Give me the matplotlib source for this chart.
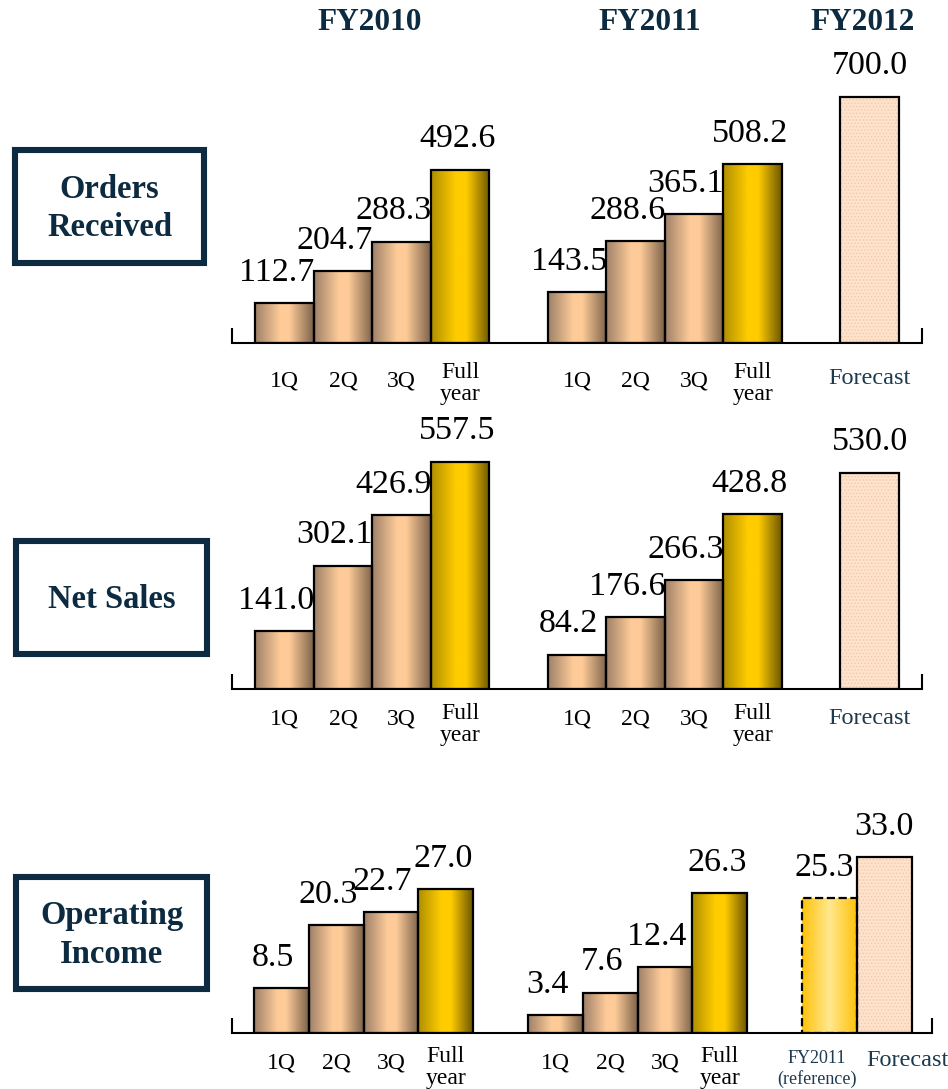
import numpy as np
import matplotlib
matplotlib.use('Agg')
import matplotlib.pyplot as plt
from matplotlib.colors import LinearSegmentedColormap
from matplotlib.patches import Rectangle

plt.rcParams['font.family'] = ['Liberation Serif', 'DejaVu Serif']
plt.rcParams['hatch.linewidth'] = 0.6

# ---------------- data ----------------
quarters = ['1Q', '2Q', '3Q', 'Full\nyear']
year_headers = ['FY2010', 'FY2011', 'FY2012']
row_titles = ['Orders\nReceived', 'Net Sales', 'Operating\nIncome']

orders_fy2010 = [112.7, 204.7, 288.3, 492.6]
orders_fy2011 = [143.5, 288.6, 365.1, 508.2]
orders_fy2012_forecast = 700.0

sales_fy2010 = [141.0, 302.1, 426.9, 557.5]
sales_fy2011 = [84.2, 176.6, 266.3, 428.8]
sales_fy2012_forecast = 530.0

opinc_fy2010 = [8.5, 20.3, 22.7, 27.0]
opinc_fy2011 = [3.4, 7.6, 12.4, 26.3]
opinc_fy2011_reference = 25.3
opinc_fy2012_forecast = 33.0

forecast_label = 'Forecast'
reference_label = 'FY2011\n(reference)'

# ---------------- style ----------------
W, H = 948, 1089
NAVY = '#0d2b40'
FC_TEXT = '#1d3a4e'
VAL_FS = 24.5
CAT_FS = 17
fig = plt.figure(figsize=(W / 100, H / 100), dpi=100)


def fx(px):
    return px / W


def fy(py):
    return 1 - py / H


tan_cmap = LinearSegmentedColormap.from_list(
    'tan', [(0, '#9e8068'), (0.42, '#fdca98'), (0.58, '#ffcc99'), (1, '#7c624a')])
gold_cmap = LinearSegmentedColormap.from_list(
    'gold', [(0, '#ae8e00'), (0.42, '#ffcc00'), (0.6, '#ffcc00'), (1, '#6c5600')])
ref_cmap = LinearSegmentedColormap.from_list(
    'ref', [(0, '#ffc20a'), (0.5, '#ffe890'), (1, '#ffc20a')])
grad = np.linspace(0, 1, 256).reshape(1, -1)


def gradient_bar(ax, x, v, cmap, ls='-'):
    b = ax.bar(x, v, width=1.0, align='edge', facecolor='none',
               edgecolor='black', linewidth=1.6, linestyle=ls, zorder=3)[0]
    im = ax.imshow(grad, cmap=cmap, extent=[x, x + 1, 0, v], aspect='auto',
                   zorder=2, interpolation='bilinear')
    im.set_clip_path(b)
    return b


def forecast_bar(ax, x, v):
    ax.bar(x, v, width=1.0, align='edge', facecolor='#fde3cd',
           edgecolor='#f5c8a4', hatch='.....', linewidth=0, zorder=2)
    ax.bar(x, v, width=1.0, align='edge', facecolor='none',
           edgecolor='black', linewidth=1.6, zorder=3)


def make_row(left, right, base, top, px_bar, px_unit, fy10, fy11, fc,
             lab_full, lab_q, fc_label_y, ref=None, val_dx=(-6, -6, -6, -2)):
    ax = fig.add_axes([fx(left), fy(base), (right - left) / W, (base - top) / H])
    ax.patch.set_visible(False)
    starts = [0.4, 5.4]
    for s, vals in zip(starts, [fy10, fy11]):
        for i, v in enumerate(vals):
            cmap = gold_cmap if i == 3 else tan_cmap
            gradient_bar(ax, s + i, v, cmap)
            ax.annotate(f'{v:.1f}', xy=(s + i + 0.5, v), xytext=(val_dx[i], 11),
                        textcoords='offset points', ha='center', va='bottom',
                        fontsize=VAL_FS, annotation_clip=False)
            off = lab_full if i == 3 else lab_q
            ax.annotate(quarters[i], xy=(s + i + 0.5, 0), xytext=(0, -off * 0.72),
                        textcoords='offset points', ha='center', va='top',
                        fontsize=CAT_FS, linespacing=1.05, annotation_clip=False)
    fstart = 10.4
    if ref is not None:
        gradient_bar(ax, fstart, ref, ref_cmap, ls='--')
        ax.annotate(f'{ref:.1f}', xy=(fstart + 0.5, ref), xytext=(-4, 11),
                    textcoords='offset points', ha='center', va='bottom',
                    fontsize=VAL_FS, annotation_clip=False)
        ax.annotate(reference_label, xy=(fstart + 0.5, 0), xytext=(-9, -36 * 0.72),
                    textcoords='offset points', ha='center', va='center',
                    fontsize=13, color=FC_TEXT, linespacing=1.15,
                    annotation_clip=False)
        fstart += 1
        fc_dx = 17
    else:
        fc_dx = 0
    forecast_bar(ax, fstart, fc)
    ax.annotate(f'{fc:.1f}', xy=(fstart + 0.5, fc), xytext=(0, 11),
                textcoords='offset points', ha='center', va='bottom',
                fontsize=VAL_FS, annotation_clip=False)
    ax.annotate(forecast_label, xy=(fstart + 0.5, 0),
                xytext=(fc_dx, -(fc_label_y - base) * 0.72),
                textcoords='offset points', ha='center', va='center',
                fontsize=CAT_FS + 0.5, color=FC_TEXT, annotation_clip=False)

    ax.set_xlim(0, (right - left) / px_bar)
    ax.set_ylim(0, (base - top) / px_unit)
    for sp in ['top', 'left', 'right']:
        ax.spines[sp].set_visible(False)
    ax.spines['bottom'].set_linewidth(1.5)
    ax.set_xticks([])
    ax.set_yticks([])
    tick_h = 15 / (base - top)
    for xa in (0, 1):
        ax.plot([xa, xa], [0, tick_h], transform=ax.transAxes, color='black',
                lw=1.5, clip_on=False, solid_capstyle='butt')
    return ax


make_row(232, 922, 343, 80, 58.5, 0.352, orders_fy2010, orders_fy2011,
         orders_fy2012_forecast, 19, 27, 378)
make_row(232, 922, 689, 420, 58.5, 0.408, sales_fy2010, sales_fy2011,
         sales_fy2012_forecast, 14, 20, 719)
make_row(232, 932, 1033, 820, 54.8, 5.32, opinc_fy2010, opinc_fy2011,
         opinc_fy2012_forecast, 13, 19, 1060, ref=opinc_fy2011_reference)

# year headers
for txt, xp in zip(year_headers, [370, 650, 863]):
    fig.text(fx(xp), fy(22), txt, ha='center', va='center', fontsize=22.5,
             fontweight='bold', color=NAVY)

# row title boxes
boxes = [(15, 150, 204, 263), (16, 541, 207, 654), (16, 877, 207, 989)]
for title, (x0, y0, x1, y1) in zip(row_titles, boxes):
    fig.add_artist(Rectangle((fx(x0), fy(y1)), (x1 - x0) / W, (y1 - y0) / H,
                             transform=fig.transFigure, fill=False,
                             edgecolor=NAVY, linewidth=4.4))
    fig.text(fx((x0 + x1) / 2), fy((y0 + y1) / 2 + 2), title, ha='center',
             va='center', fontsize=23.5, fontweight='bold', color=NAVY,
             linespacing=1.3)

fig.savefig('out.png', dpi=100)
